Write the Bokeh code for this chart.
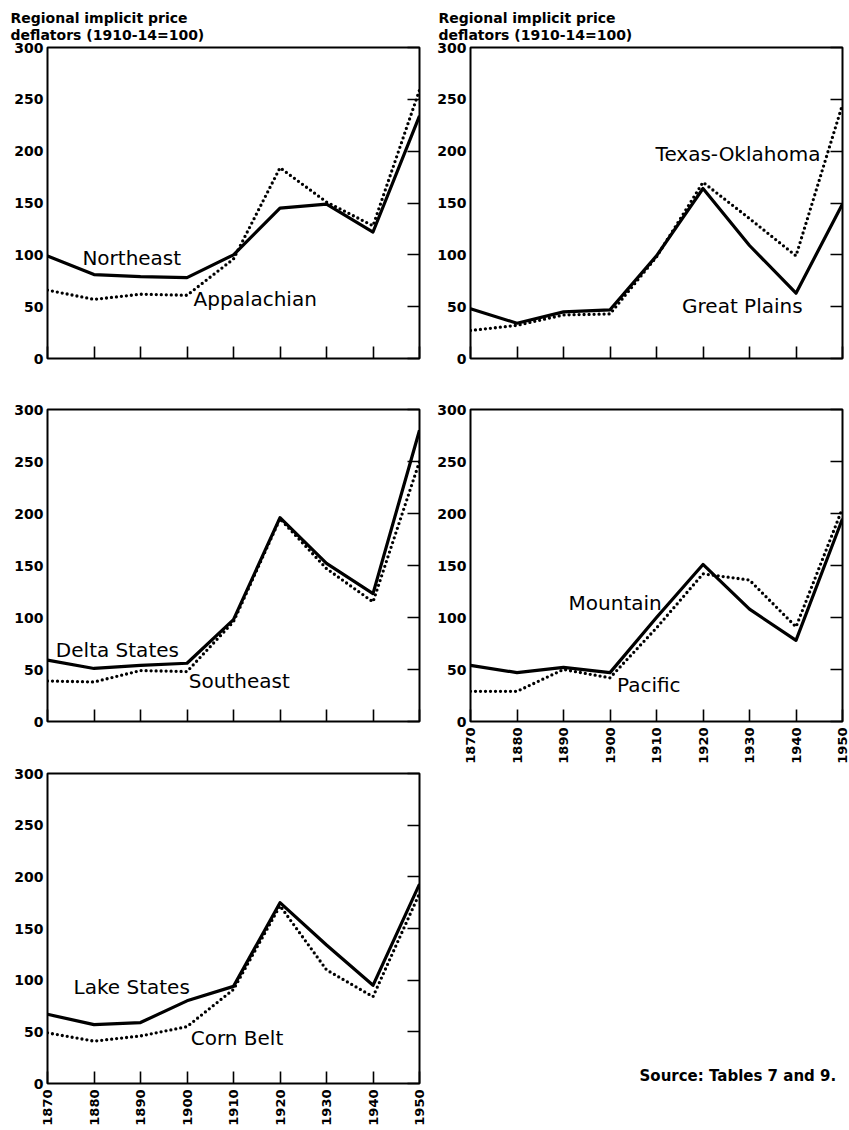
import math
from bokeh.plotting import figure
from bokeh.models import Range1d, LinearAxis, FixedTicker, Label
from bokeh.layouts import row, column
from bokeh.embed import file_html
from bokeh.resources import INLINE

# ---- data -------------------------------------------------------------
years = [1870, 1880, 1890, 1900, 1910, 1920, 1930, 1940, 1950]
y_ticks = [0, 50, 100, 150, 200, 250, 300]

northeast = [99, 81, 79, 78, 100, 145, 149, 122, 234]
appalachian = [66, 57, 62, 61, 96, 184, 151, 128, 259]

great_plains = [48, 34, 45, 47, 99, 164, 109, 63, 149]
texas_oklahoma = [27, 32, 42, 43, 98, 170, 135, 99, 245]

delta_states = [59, 51, 54, 56, 98, 196, 152, 123, 280]
southeast = [39, 38, 49, 48, 96, 195, 147, 115, 250]

mountain = [54, 47, 52, 47, 100, 151, 108, 78, 195]
pacific = [29, 29, 50, 42, 90, 142, 136, 91, 205]

lake_states = [67, 57, 59, 80, 94, 175, 134, 95, 193]
corn_belt = [49, 41, 46, 55, 91, 172, 110, 84, 184]

header_text = "Regional implicit price\ndeflators (1910-14=100)"
source_text = "Source: Tables 7 and 9."

FONT = "DejaVu Sans"


def blank(ticks):
    return {t: "" for t in ticks}


def make_panel(solid, dotted, names, label_pos, w, h, bl, br, bt, bb,
               xlabels=False, header=False, header_offset=-37, xstandoff=3):
    p = figure(width=w, height=h,
               x_range=Range1d(1870, 1950), y_range=Range1d(0, 300),
               output_backend="svg", toolbar_location=None,
               min_border_left=bl, min_border_right=br,
               min_border_top=bt, min_border_bottom=bb)
    p.background_fill_color = "white"
    p.border_fill_color = "white"
    p.outline_line_color = "black"
    p.outline_line_width = 2
    p.xgrid.visible = False
    p.ygrid.visible = False

    # bottom axis: inward ticks
    xa = p.xaxis[0]
    xa.ticker = FixedTicker(ticks=years)
    xa.major_tick_in = 12
    xa.major_tick_out = 0
    xa.major_tick_line_width = 1.6
    xa.major_tick_line_color = "black"
    xa.minor_tick_line_color = None
    xa.axis_line_color = None
    xa.major_label_text_font = FONT
    xa.major_label_text_font_size = "13px"
    xa.major_label_text_font_style = "bold"
    xa.major_label_text_color = "black"
    if xlabels:
        xa.major_label_orientation = math.pi / 2
        xa.major_label_standoff = xstandoff
    else:
        xa.major_label_overrides = blank(years)
        xa.major_label_standoff = 0

    # left axis: labels only
    ya = p.yaxis[0]
    ya.ticker = FixedTicker(ticks=y_ticks)
    ya.major_tick_in = 0
    ya.major_tick_out = 0
    ya.minor_tick_line_color = None
    ya.axis_line_color = None
    ya.major_label_text_font = FONT
    ya.major_label_text_font_size = "14px"
    ya.major_label_text_font_style = "bold"
    ya.major_label_text_color = "black"
    ya.major_label_standoff = 4

    # right axis: inward ticks only
    ra = LinearAxis(ticker=FixedTicker(ticks=y_ticks), major_tick_in=12,
                    major_tick_out=0, minor_tick_line_color=None,
                    axis_line_color=None, major_tick_line_width=1.6,
                    major_label_overrides=blank(y_ticks),
                    major_label_standoff=0)
    p.add_layout(ra, "right")

    if header:
        p.title.text = header_text
        p.title.align = "left"
        p.title.offset = header_offset
        p.title.text_font = FONT
        p.title.text_font_size = "14px"
        p.title.text_font_style = "bold"
        p.title.text_color = "black"
        p.title.text_line_height = 1.05
        p.title.standoff = 9

    p.line(years, solid, line_width=3.2, line_color="black", line_join="round")
    p.line(years, dotted, line_width=3.3, line_color="black", line_dash="0 5",
           line_cap="round")

    for name, (lx, ly) in zip(names, label_pos):
        p.add_layout(Label(x=lx, y=ly, text=name, text_font=FONT,
                           text_font_size="20px", text_color="black",
                           text_align="left", text_baseline="alphabetic"))
    return p


f1 = make_panel(northeast, appalachian, ["Northeast", "Appalachian"],
                [(1877.5, 97), (1901.4, 57.5)],
                431, 383, 47, 12, 47, 25, header=True, header_offset=-37)
f3 = make_panel(delta_states, southeast, ["Delta States", "Southeast"],
                [(1871.8, 69), (1900.4, 39)],
                431, 363, 47, 12, 26, 25)
f5 = make_panel(lake_states, corn_belt, ["Lake States", "Corn Belt"],
                [(1875.6, 93), (1900.8, 44)],
                431, 382, 47, 12, 27, 44, xlabels=True, xstandoff=6)

f2 = make_panel(great_plains, texas_oklahoma, ["Texas-Oklahoma", "Great Plains"],
                [(1909.8, 197.5), (1915.5, 50.5)],
                418, 383, 39, 7, 47, 25, header=True, header_offset=-32)
f4 = make_panel(mountain, pacific, ["Mountain", "Pacific"],
                [(1891.1, 113.5), (1901.5, 35.5)],
                418, 386, 39, 7, 26, 48, xlabels=True, xstandoff=6)

f6 = figure(width=418, height=359, x_range=Range1d(0, 1), y_range=Range1d(0, 1),
            output_backend="svg", toolbar_location=None,
            x_axis_type=None, y_axis_type=None,
            min_border_left=0, min_border_right=0,
            min_border_top=0, min_border_bottom=0)
f6.outline_line_color = None
f6.xgrid.visible = False
f6.ygrid.visible = False
f6.add_layout(Label(x=0.983, y=0.145, text=source_text, text_font=FONT,
                    text_font_size="15px", text_font_style="bold",
                    text_color="black", text_align="right",
                    text_baseline="alphabetic"))

layout = row(column(f1, f3, f5), column(f2, f4, f6))

open("out.html", "w").write(file_html(layout, INLINE))
